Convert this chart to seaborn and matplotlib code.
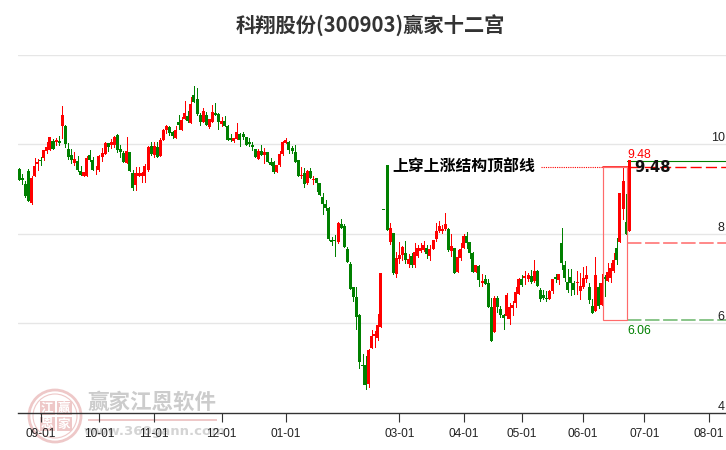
import matplotlib
matplotlib.use('Agg')
import matplotlib.pyplot as plt
from matplotlib.patches import Circle, Rectangle
import seaborn as sns
import numpy as np

# daily prices
opens = [
    9.45, 9.24, 9.11, 9.40, 8.68, 9.29, 9.56, 9.65, 9.69, 9.84, 9.87, 10.08, 10.04, 10.07, 10.40, 10.41, 9.90, 9.76, 9.59, 9.63,
    9.40, 9.30, 9.30, 9.76, 9.65, 9.39, 9.43, 9.72, 9.79, 10.02, 9.98, 9.98, 10.20, 9.90, 9.81, 9.58, 9.83, 9.36, 9.09, 9.30,
    9.28, 9.29, 9.43, 9.96, 9.76, 9.93, 9.74, 10.10, 10.31, 10.39, 10.27, 10.14, 10.50, 10.32, 10.57, 10.63, 10.48, 11.10, 11.01, 10.66,
    10.50, 10.66, 10.39, 10.50, 10.69, 10.68, 10.46, 10.52, 10.41, 10.14, 10.07, 10.12, 10.23, 10.23, 10.16, 10.04, 9.99, 9.90, 9.68, 9.84,
    9.75, 9.82, 9.61, 9.61, 9.37, 9.54, 9.79, 10.02, 10.04, 9.92, 9.82, 9.64, 9.29, 9.35, 9.13, 9.40, 9.20, 9.24, 9.13, 8.81,
    8.66, 8.57, 7.85, 7.85, 7.81, 8.22, 8.17, 7.65, 7.32, 6.80, 6.59, 6.18, 5.07, 5.06, 4.63, 5.44, 5.72, 5.66, 5.92, 8.54,
    9.53, 7.81, 8.01, 7.09, 7.43, 7.52, 7.57, 7.32, 7.49, 7.31, 7.49, 7.62, 7.63, 7.69, 7.50, 7.66, 7.87, 8.07, 8.05, 8.10,
    8.10, 7.62, 7.67, 7.15, 7.46, 7.69, 7.94, 7.81, 7.57, 7.14, 7.28, 6.90, 6.98, 6.89, 6.35, 5.80, 6.55, 6.31, 6.19, 6.16,
    6.10, 6.33, 6.44, 6.66, 6.99, 7.01, 6.98, 7.05, 6.94, 7.17, 6.75, 6.63, 6.55, 6.53, 6.71, 7.02, 6.96, 7.78, 7.31, 6.92,
    7.02, 6.90, 6.90, 6.71, 6.80, 6.98, 6.81, 6.39, 6.27, 6.81, 6.40, 7.04, 6.94, 7.01, 7.16, 7.69, 7.81, 8.56, 8.25, 8.06,
]
closes = [
    9.19, 9.19, 8.85, 8.74, 9.24, 9.51, 9.60, 9.63, 9.87, 9.93, 10.16, 9.90, 10.09, 10.03, 10.66, 10.01, 9.72, 9.65, 9.66, 9.43,
    9.31, 9.37, 9.69, 9.65, 9.43, 9.40, 9.74, 9.80, 10.03, 9.94, 10.04, 10.16, 9.88, 9.83, 9.60, 9.84, 9.41, 9.02, 9.35, 9.36,
    9.35, 9.51, 9.94, 9.78, 9.96, 9.72, 10.10, 10.32, 10.41, 10.25, 10.19, 10.32, 10.43, 10.54, 10.70, 10.51, 10.90, 10.95, 10.68, 10.50,
    10.75, 10.43, 10.57, 10.72, 10.66, 10.50, 10.51, 10.41, 10.10, 10.10, 10.13, 10.28, 10.10, 10.17, 9.98, 10.01, 9.93, 9.72, 9.84, 9.75,
    9.83, 9.61, 9.54, 9.37, 9.54, 9.78, 10.04, 10.09, 9.87, 9.84, 9.61, 9.30, 9.31, 9.11, 9.40, 9.25, 9.22, 9.13, 8.87, 8.67,
    8.57, 7.88, 7.81, 7.84, 8.24, 8.12, 7.71, 7.37, 6.77, 6.59, 6.13, 5.13, 5.04, 4.61, 5.40, 5.71, 5.75, 5.96, 7.13, 8.54,
    8.09, 8.12, 7.13, 7.45, 7.52, 7.71, 7.40, 7.43, 7.30, 7.59, 7.68, 7.69, 7.74, 7.54, 7.65, 7.86, 8.06, 8.17, 8.11, 8.22,
    7.63, 7.72, 7.13, 7.48, 7.65, 7.95, 7.80, 7.57, 7.15, 7.29, 6.96, 6.94, 6.87, 6.37, 5.60, 6.57, 6.36, 6.17, 6.11, 6.62,
    6.35, 6.41, 6.69, 6.98, 6.86, 7.05, 7.07, 6.92, 7.16, 6.83, 6.54, 6.57, 6.54, 6.72, 6.99, 6.99, 7.09, 7.34, 7.01, 6.74,
    6.90, 6.74, 6.92, 6.82, 7.01, 7.07, 6.51, 6.23, 7.08, 6.38, 6.89, 6.99, 7.14, 7.24, 7.40, 7.41, 8.90, 9.17, 8.00, 9.65,
]
highs = [
    9.47, 9.34, 9.17, 9.45, 9.29, 9.69, 9.67, 9.71, 9.87, 10.05, 10.16, 10.12, 10.13, 10.19, 10.86, 10.43, 10.03, 9.90, 9.83, 9.74,
    9.51, 9.37, 9.74, 9.87, 9.71, 9.51, 9.76, 9.91, 10.05, 10.02, 10.12, 10.19, 10.22, 9.99, 9.85, 10.16, 9.83, 9.43, 9.49, 9.49,
    9.38, 9.56, 9.96, 10.05, 10.05, 10.05, 10.13, 10.34, 10.43, 10.41, 10.30, 10.41, 10.66, 10.61, 10.97, 10.75, 11.06, 11.31, 11.26, 10.70,
    10.81, 10.72, 10.57, 10.88, 10.93, 10.70, 10.61, 10.63, 10.43, 10.23, 10.14, 10.48, 10.25, 10.28, 10.16, 10.13, 10.04, 9.90, 9.90, 9.99,
    9.91, 9.82, 9.69, 9.63, 9.54, 9.84, 10.08, 10.13, 10.08, 9.96, 9.99, 9.64, 9.48, 9.46, 9.43, 9.47, 9.28, 9.24, 9.14, 8.90,
    8.75, 8.59, 7.93, 7.97, 8.25, 8.33, 8.21, 7.71, 7.36, 6.80, 6.81, 6.20, 5.31, 5.26, 5.42, 5.84, 5.82, 6.20, 7.13, 8.54,
    9.53, 8.23, 8.01, 7.59, 7.82, 7.73, 7.84, 7.54, 7.57, 7.78, 7.75, 7.78, 7.84, 7.75, 7.75, 7.86, 8.23, 8.29, 8.19, 8.46,
    8.12, 7.99, 7.67, 7.63, 7.78, 7.99, 8.03, 7.81, 7.59, 7.29, 7.31, 7.09, 7.07, 6.98, 6.57, 6.60, 6.60, 6.38, 6.21, 6.68,
    6.44, 6.49, 6.80, 7.01, 7.07, 7.16, 7.13, 7.19, 7.41, 7.19, 6.79, 6.75, 6.72, 6.75, 6.99, 7.09, 7.09, 8.12, 7.39, 7.20,
    7.20, 6.95, 7.16, 7.13, 7.26, 7.28, 6.89, 6.53, 7.48, 6.90, 7.09, 7.07, 7.34, 7.34, 7.56, 7.90, 8.90, 9.50, 8.88, 9.65,
]
lows = [
    9.19, 9.11, 8.83, 8.74, 8.66, 9.29, 9.43, 9.54, 9.65, 9.80, 9.87, 9.89, 9.98, 9.99, 10.14, 9.93, 9.68, 9.59, 9.54, 9.40,
    9.31, 9.30, 9.30, 9.63, 9.43, 9.34, 9.41, 9.63, 9.79, 9.85, 9.91, 9.93, 9.82, 9.72, 9.60, 9.58, 9.40, 8.98, 8.98, 9.29,
    9.16, 9.16, 9.41, 9.76, 9.71, 9.72, 9.74, 10.10, 10.26, 10.21, 10.14, 10.14, 10.34, 10.32, 10.57, 10.50, 10.48, 10.95, 10.66, 10.43,
    10.49, 10.43, 10.37, 10.50, 10.66, 10.34, 10.41, 10.41, 10.10, 10.07, 10.05, 10.12, 9.97, 10.11, 9.98, 9.97, 9.87, 9.71, 9.68, 9.75,
    9.59, 9.61, 9.53, 9.35, 9.37, 9.51, 9.75, 10.02, 9.81, 9.81, 9.61, 9.30, 9.24, 9.04, 9.11, 9.25, 9.11, 8.96, 8.87, 8.43,
    8.54, 7.86, 7.75, 7.49, 7.78, 8.12, 7.71, 7.37, 6.77, 6.49, 5.87, 5.00, 4.63, 4.53, 4.56, 5.44, 5.46, 5.62, 5.92, 8.54,
    8.09, 7.77, 7.10, 7.04, 7.35, 7.41, 7.35, 7.25, 7.25, 7.25, 7.47, 7.60, 7.62, 7.45, 7.41, 7.66, 7.84, 8.04, 8.01, 8.08,
    7.62, 7.51, 7.13, 7.15, 7.40, 7.67, 7.69, 7.46, 7.15, 7.14, 6.83, 6.84, 6.87, 6.37, 5.60, 5.80, 6.25, 6.14, 5.87, 6.12,
    5.99, 6.19, 6.35, 6.64, 6.83, 6.87, 6.94, 6.90, 6.92, 6.83, 6.49, 6.54, 6.49, 6.53, 6.68, 6.92, 6.87, 7.20, 6.95, 6.69,
    6.62, 6.64, 6.66, 6.54, 6.79, 6.92, 6.44, 6.22, 6.27, 6.34, 6.40, 6.60, 6.94, 6.92, 7.14, 7.32, 7.81, 8.32, 8.00, 8.06,
]

date_ticks = [7, 26, 44, 66, 87, 124, 145, 164, 184, 204, 225]
date_labels = ['09-01', '10-01', '11-01', '12-01', '01-01', '03-01', '04-01', '05-01', '06-01', '07-01', '08-01']
price_ticks = [4, 6, 8, 10]
price_grid = [6, 8, 10, 12]

top_level = 9.48
bottom_level = 6.06
middle_level = 7.79
break_level = 9.63
box_left = 190.4
box_right = 198.2

sns.set_theme(style='white')
plt.rcParams['font.family'] = ['Noto Sans CJK SC', 'DejaVu Sans']

RED = '#ff0000'
GREEN = '#008000'
W, H = 726, 450

fig = plt.figure(figsize=(W / 100, H / 100), dpi=100)
ax = fig.add_axes([18 / W, (H - 412.5) / H, (W - 18) / W, (412.5 - 54.8) / H])
ax.set_xlim(-0.42, 230.6)
ax.set_ylim(4, 12)
# keep the axes above the watermark
ax.set_zorder(5)
ax.patch.set_alpha(0)

for spine in ['top', 'left', 'right']:
    ax.spines[spine].set_visible(False)
ax.spines['bottom'].set_color('#333333')
ax.spines['bottom'].set_linewidth(1)

for g in price_grid:
    ax.axhline(g, color='#e6e6e6', lw=1, zorder=1)

# candles
idx = np.arange(len(opens))
o = np.array(opens)
c = np.array(closes)
colors = np.where(c > o, RED, GREEN)
ax.vlines(idx, lows, highs, colors=colors, lw=0.72, zorder=2, antialiased=False)
ax.bar(idx, np.maximum(np.abs(c - o), 0.02), width=0.98, bottom=np.minimum(o, c), color=colors,
       linewidth=0, zorder=3, antialiased=False)

# level lines
def level(x0, x1, y, color, **kws):
    sns.lineplot(x=[x0, x1], y=[y, y], color=color, ax=ax, legend=False, estimator=None, sort=False, **kws)

level(box_right, 230.6, break_level, GREEN, lw=0.8, zorder=2)
level(box_left, box_right + 0.8, top_level, RED, lw=1.1, zorder=4)
level(170.2, box_left, top_level, RED, lw=0.8, linestyle=(0, (1, 1)), zorder=2)
level(box_right + 0.8, 230.6, top_level, RED, lw=1, linestyle=(0, (8, 3)), zorder=2)
level(box_right, 230.6, middle_level, '#ff7f7f', lw=1.3, linestyle=(0, (8, 2)), zorder=2)
level(box_right, 230.6, bottom_level, '#80c080', lw=1.3, linestyle=(0, (8, 2)), zorder=2)
ax.add_patch(Rectangle((box_left, bottom_level), box_right - box_left, top_level - bottom_level,
                       fill=False, edgecolor='#ff6a6a', lw=0.85, zorder=4))
ax.set_xlabel('')
ax.set_ylabel('')
ax.set_xlim(-0.42, 230.6)
ax.set_ylim(4, 12)

ax.set_yticks([])
ax.set_xticks(date_ticks)
ax.set_xticklabels(date_labels, fontsize=8.6, family='Liberation Sans', color='#222222')
ax.tick_params(axis='x', length=6.5, width=0.8, color='#333333', pad=5, bottom=True)

for p in price_ticks:
    ax.annotate(str(p), xy=(1, p), xycoords=('axes fraction', 'data'), xytext=(-1, 0), textcoords='offset points',
                ha='right', va='bottom', fontsize=9, family='Liberation Sans', color='#222222', annotation_clip=False)

def px_text(x, y, s, **kws):
    fig.text(x / W, 1 - y / H, s, **kws)

px_text(370, 26, '科翔股份(300903)赢家十二宫', ha='center', va='center', fontsize=14.6, fontweight='bold', color='#333333')
ax.annotate('上穿上涨结构顶部线', xy=(392 / W, 1 - 167 / H), xycoords='figure fraction', ha='left', va='center',
            fontsize=11.4, fontweight='bold', color='black', annotation_clip=False)
ax.annotate('9.48', xy=(634 / W, 1 - 168 / H), xycoords='figure fraction', ha='left', va='center',
            fontsize=10.6, fontweight='bold', family='DejaVu Sans', color='#111111', annotation_clip=False, zorder=6)
px_text(627, 155, '9.48', ha='left', va='center', fontsize=8.8, family='Liberation Sans', color=RED)
px_text(627, 331, '6.06', ha='left', va='center', fontsize=8.8, family='Liberation Sans', color=GREEN)

# watermark
mark = '#eec8c8'
fig.add_artist(Circle((55, H - 416), 26, transform=None, fill=False, edgecolor=mark, lw=2))
fig.add_artist(Circle((55, H - 416), 22, transform=None, fill=False, edgecolor=mark, lw=0.8))
for (cx, cy, ch) in [(47, 408, '江'), (64, 408, '赢'), (47, 424, '恩'), (64, 424, '家')]:
    fig.add_artist(Rectangle((cx - 7.5, H - cy - 7), 15, 14, transform=None, color=mark, lw=0))
    px_text(cx, cy, ch, ha='center', va='center', fontsize=9, fontweight='bold', color='white')
px_text(152, 402, '赢家江恩软件', ha='center', va='center', fontsize=15.5, fontweight='bold', color='#cccccc')
fig.add_artist(Rectangle((88, H - 421), 129, 2, transform=None, color=mark, lw=0))
px_text(155, 432, 'www.360gann.com', ha='center', va='center', fontsize=9.5, fontweight='bold', family='DejaVu Sans', color='#d4d4d4', zorder=0)

fig.savefig('out.png', dpi=100, facecolor='white')
plt.close(fig)
